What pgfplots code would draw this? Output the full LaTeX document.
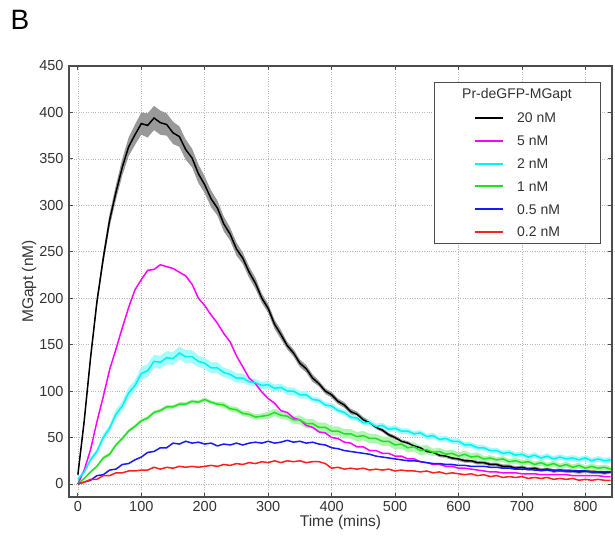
\documentclass[border=0pt]{standalone}
\usepackage{pgfplots}
\usepackage{pgfplotstable}
\pgfplotsset{compat=1.18}
\usepgfplotslibrary{fillbetween}
\usepackage{fontspec}
\setmainfont{Liberation Sans}
\definecolor{mgreen}{rgb}{0.13,0.88,0.13}
\definecolor{mblue}{rgb}{0.1,0.1,1}
\definecolor{mred}{rgb}{1,0.12,0.12}
\definecolor{mcyan}{rgb}{0,0.95,0.95}
\definecolor{mmag}{rgb}{1,0,1}
\definecolor{axgray}{gray}{0.3}
\pgfplotstableread{
t k kw m c cw g gw b r
0 10 2 0 5 2 0 1 0 0
10 68 3 15 13 2 6 1 2 2
20 136 4 37 26 3 13 1 4 5
30 196 5 67 35 3 19 1 9 5
40 243 6 94 50 4 28 2 10 9
50 284 7 123 60 4 32 2 15 9
60 314 8 145 75 5 42 2 16 12
70 341 9 168 84 5 49 2 21 12
80 363 10 190 98 6 57 2 22 14
90 376 11 209 106 6 62 2 26 14
100 388 12 220 119 7 68 2 29 15
110 386 13 230 122 7 71 2 34 15
120 394 13 231 132 7 77 2 35 18
130 389 13 236 131 7 79 2 39 16
140 387 12 234 136 7 83 2 39 18
150 378 12 232 135 7 83 2 44 17
160 374 11 228 141 7 86 2 43 19
170 360 11 224 137 7 86 2 46 18
180 351 10 215 137 7 89 2 44 19
190 334 10 200 132 6 88 2 45 18
200 322 9 192 130 6 91 2 43 19
210 307 9 182 125 6 88 2 44 20
220 297 8 173 125 6 86 2 41 19
230 280 8 162 120 5 85 3 43 21
240 269 7 153 118 5 81 3 42 20
250 253 7 138 114 5 80 3 44 22
260 243 6 126 114 5 76 3 42 21
270 228 6 114 110 4 75 3 44 23
280 216 6 108 109 4 72 3 45 22
290 200 5 99 106 4 73 3 44 24
300 189 5 92 107 4 74 4 46 23
310 172 5 87 103 4 77 4 44 25
320 161 5 79 104 4 74 4 45 23
330 149 4 77 100 4 73 4 47 25
340 141 4 71 100 4 69 4 45 24
350 130 4 69 96 4 69 5 46 25
360 124 4 63 96 4 65 5 44 23
370 114 4 61 91 3 65 5 45 24
380 108 3 56 90 3 61 5 43 24
390 100 3 55 85 3 61 5 42 22
400 96 3 50 84 3 57 5 39 17
410 89 3 49 79 3 57 5 38 18
420 85 3 45 77 3 54 5 36 16
430 78 3 44 72 3 54 5 35 17
440 75 3 40 71 3 51 5 34 16
450 69 3 40 66 3 52 5 33 17
460 66 2 36 66 3 49 5 32 15
470 61 2 36 62 3 49 5 30 16
480 58 2 33 63 3 46 5 29 15
490 53 2 33 59 3 46 5 28 16
500 50 2 30 60 3 42 5 27 14
510 46 2 30 57 3 43 5 26 15
520 44 2 27 57 3 39 5 25 14
530 41 2 27 54 3 40 5 25 14
540 39 2 24 55 3 36 5 24 13
550 35 2 23 51 3 37 5 23 14
560 34 2 21 52 3 34 4 22 12
570 31 2 21 48 3 35 4 22 13
580 30 2 19 49 3 32 4 21 11
590 28 2 19 46 3 33 4 21 12
600 27 2 17 46 3 30 4 20 11
610 25 2 17 42 3 32 4 20 10
620 25 2 16 42 3 29 4 19 11
630 23 2 15 39 3 30 4 19 9
640 23 2 14 39 3 27 3 19 10
650 21 2 13 36 3 28 3 18 8
660 21 2 13 36 3 26 3 18 9
670 19 2 12 33 3 27 3 17 7
680 19 2 12 34 3 24 3 17 8
690 17 2 12 31 3 25 3 16 7
700 18 2 11 32 3 23 3 16 8
710 16 2 11 29 3 24 3 16 6
720 17 2 11 31 3 21 3 15 7
730 15 2 10 28 3 23 3 15 6
740 16 2 10 30 3 20 3 15 7
750 14 2 10 27 3 22 3 15 5
760 15 2 10 29 3 19 3 14 6
770 14 2 10 27 3 21 3 14 5
780 14 2 9 28 3 18 3 14 6
790 13 2 9 26 3 20 3 14 4
800 14 2 9 28 3 17 3 14 5
810 13 2 9 25 3 19 3 13 4
820 13 2 9 27 3 17 3 13 5
830 12 2 8 25 3 18 3 13 4
840 13 2 8 26 3 16 3 13 4
}\data
\begin{document}
\begin{tikzpicture}
\begin{axis}[
  name=ax,
  scale only axis,
  width=543pt, height=431pt,
  xmin=-14, xmax=842, ymin=-14, ymax=450,
  xtick={0,100,...,800}, ytick={0,50,...,450},
  tick align=inside,
  major tick length=4pt,
  tick style={axgray, line width=0.8pt},
  axis line style={axgray, line width=1.3pt},
  grid=major,
  grid style={dotted, black!28, line width=0.7pt},
  /pgf/number format/assume math mode=true,
  tick label style={font=\fontsize{14.5}{16}\selectfont, text=black!80},
  yticklabel style={xshift=-2pt},
  xticklabel style={yshift=-1pt},
  xlabel={Time (mins)},
  ylabel={MGapt (nM)},
  label style={font=\fontsize{15.5}{17}\selectfont, text=black!80},
  xlabel style={yshift=3pt},
  ylabel style={yshift=-4pt},
]
% bands
\addplot[name path=kh, draw=none, forget plot] table[x=t, y expr=\thisrow{k}+\thisrow{kw}] {\data};
\addplot[name path=kl, draw=none, forget plot] table[x=t, y expr=\thisrow{k}-\thisrow{kw}] {\data};
\addplot[black!40, forget plot] fill between[of=kh and kl];
\addplot[name path=ch, draw=none, forget plot] table[x=t, y expr=\thisrow{c}+\thisrow{cw}] {\data};
\addplot[name path=cl, draw=none, forget plot] table[x=t, y expr=\thisrow{c}-\thisrow{cw}] {\data};
\addplot[mcyan!35, forget plot] fill between[of=ch and cl];
\addplot[name path=gh, draw=none, forget plot] table[x=t, y expr=\thisrow{g}+\thisrow{gw}] {\data};
\addplot[name path=gl, draw=none, forget plot] table[x=t, y expr=\thisrow{g}-\thisrow{gw}] {\data};
\addplot[mgreen!35, forget plot] fill between[of=gh and gl];
% lines
\addplot[black, line width=1.5pt] table[x=t, y=k] {\data};
\addplot[mmag, line width=1.5pt] table[x=t, y=m] {\data};
\addplot[mcyan, line width=1.5pt] table[x=t, y=c] {\data};
\addplot[mgreen, line width=1.5pt] table[x=t, y=g] {\data};
\addplot[mblue, line width=1.5pt] table[x=t, y=b] {\data};
\addplot[mred, line width=1.5pt] table[x=t, y=r] {\data};
\end{axis}
% legend box
\node[draw=axgray, line width=1.3pt, fill=white, anchor=north west, minimum width=166pt, minimum height=161pt, inner sep=0pt] (leg) at ([shift={(365pt,-16pt)}]ax.north west) {};
\node[font=\fontsize{14}{15}\selectfont, text=black!80] at ([shift={(83pt,-13pt)}]leg.north west) {Pr-deGFP-MGapt};
\foreach \c/\lab/\y in {black/20 nM/36, mmag/5 nM/58.8, mcyan/2 nM/81.6, mgreen/1 nM/104.4, mblue/0.5 nM/127.2, mred/0.2 nM/150} {
  \draw[\c, line width=2pt] ([shift={(41pt,-\y pt)}]leg.north west) -- ([shift={(69pt,-\y pt)}]leg.north west);
  \node[anchor=west, inner sep=0pt, font=\fontsize{14}{15}\selectfont, text=black!80] at ([shift={(83pt,-\y pt)}]leg.north west) {\lab};
}
\node[font=\fontsize{28}{30}\selectfont] at ([shift={(-49pt,46pt)}]ax.north west) {B};
\pgfresetboundingbox
\path ([shift={(-69pt,-45pt)}]ax.south west) rectangle ([shift={(3pt,66pt)}]ax.north east);
\end{tikzpicture}
\end{document}
